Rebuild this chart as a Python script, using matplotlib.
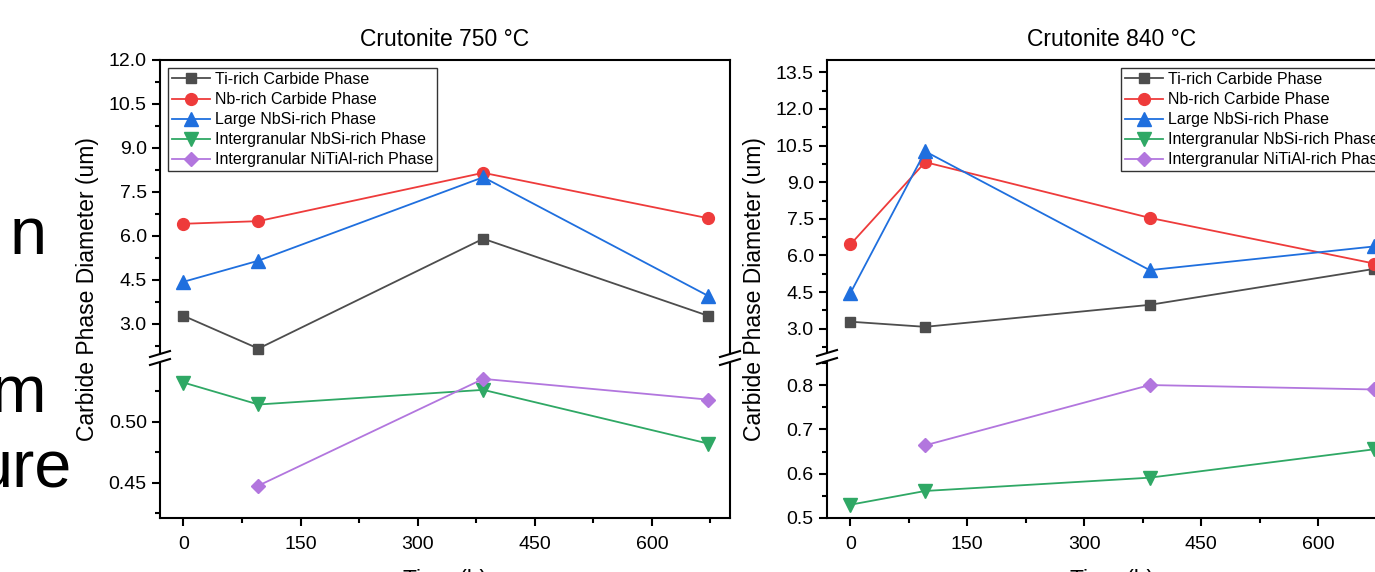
"""Crutonite carbide phase diameter vs time at 750 and 840 C (broken y axes)."""
import numpy as np
import matplotlib
matplotlib.use("Agg")
import matplotlib.pyplot as plt
from matplotlib.lines import Line2D
from matplotlib.ticker import MultipleLocator, FormatStrFormatter

plt.rcParams["font.family"] = ["Liberation Sans", "DejaVu Sans"]

# ---- data ----
time_h = [0, 96, 384, 672]
series_names = [
    "Ti-rich Carbide Phase",
    "Nb-rich Carbide Phase",
    "Large NbSi-rich Phase",
    "Intergranular NbSi-rich Phase",
    "Intergranular NiTiAl-rich Phase",
]
ti_750 = [3.27, 2.15, 5.90, 3.27]
nb_750 = [6.41, 6.50, 8.15, 6.60]
nbsi_large_750 = [4.43, 5.15, 8.00, 3.95]
nbsi_inter_750 = [0.532, 0.514, 0.526, 0.482]
nitial_750 = [np.nan, 0.4475, 0.535, 0.518]

ti_840 = [3.29, 3.08, 3.98, 5.45]
nb_840 = [6.45, 9.82, 7.54, 5.67]
nbsi_large_840 = [4.46, 10.26, 5.40, 6.37]
nbsi_inter_840 = [0.530, 0.561, 0.591, 0.655]
nitial_840 = [np.nan, 0.664, 0.800, 0.790]

colors = ["#4d4d4d", "#ee3b3b", "#1f6fde", "#2fa865", "#b276de"]
markers = ["s", "o", "^", "v", "D"]
msizes = [7.5, 8.5, 9.5, 9.5, 7.5]

W, H = 1375, 572


def box(x0, y0, x1, y1):
    """Pixel box (top-left origin) -> figure fraction rect."""
    return [x0 / W, 1 - y1 / H, (x1 - x0) / W, (y1 - y0) / H]


def style_axis(ax, upper):
    for s in ax.spines.values():
        s.set_linewidth(1.5)
        s.set_color("black")
    ax.set_xlim(-30, 700)
    ax.xaxis.set_major_locator(MultipleLocator(150))
    ax.xaxis.set_minor_locator(MultipleLocator(75))
    ax.tick_params(which="both", direction="out", width=1.5, labelsize=14,
                   right=False, top=False)
    ax.tick_params(which="major", length=6)
    ax.tick_params(which="minor", length=3.5)
    ax.tick_params(axis="x", which="major", pad=7)
    if upper:
        ax.spines["bottom"].set_visible(False)
        ax.tick_params(axis="x", which="both", bottom=False, labelbottom=False)
    else:
        ax.spines["top"].set_visible(False)


def break_marks(fig, xs, y_top, y_bot):
    for x in xs:
        for y in (y_top + 1, y_bot - 1):
            fig.add_artist(Line2D([(x - 10) / W, (x + 10) / W],
                                  [1 - (y + 3) / H, 1 - (y - 3) / H],
                                  transform=fig.transFigure, color="black",
                                  lw=1.5))


def panel(fig, x0, x1, gap, title, upper_data, lower_data, upper_lim,
          lower_lim, lower_major, lower_fmt, legend_x):
    ax_u = fig.add_axes(box(x0, 60, x1, gap[0]))
    ax_l = fig.add_axes(box(x0, gap[1], x1, 518))
    handles = []
    for i, vals in enumerate(upper_data + lower_data):
        ax = ax_u if i < 3 else ax_l
        (h,) = ax.plot(time_h, vals, color=colors[i], marker=markers[i],
                       markersize=msizes[i], lw=1.3, label=series_names[i],
                       clip_on=False)
        handles.append(h)
    style_axis(ax_u, True)
    style_axis(ax_l, False)
    ax_u.set_ylim(*upper_lim)
    ax_u.yaxis.set_major_locator(MultipleLocator(1.5))
    ax_u.yaxis.set_minor_locator(MultipleLocator(0.75))
    ax_u.yaxis.set_major_formatter(FormatStrFormatter("%.1f"))
    ax_l.set_ylim(*lower_lim)
    ax_l.yaxis.set_major_locator(MultipleLocator(lower_major))
    ax_l.yaxis.set_minor_locator(MultipleLocator(lower_major / 2))
    ax_l.yaxis.set_major_formatter(FormatStrFormatter(lower_fmt))

    leg = ax_u.legend(handles=handles, loc="upper left",
                      bbox_to_anchor=(legend_x, 1 - 8 / (gap[0] - 60)),
                      borderaxespad=0, fontsize=11.5, labelspacing=0.32,
                      handlelength=2.4, handletextpad=0.3, borderpad=0.25,
                      fancybox=False, framealpha=1)
    leg.get_frame().set_edgecolor("#333333")
    leg.get_frame().set_linewidth(1.0)

    cx = (x0 + x1) / 2
    fig.text(cx / W, 1 - 40 / H, title, ha="center", va="center",
             fontsize=16.5)
    fig.text(cx / W, 1 - 569 / H, "Time (h)", ha="center", va="top",
             fontsize=16.5)
    break_marks(fig, [x0, x1], gap[0], gap[1])


def main():
    fig = plt.figure(figsize=(W / 100, H / 100), dpi=100)

    panel(fig, 160, 730, (353, 363), "Crutonite 750 °C",
          [ti_750, nb_750, nbsi_large_750], [nbsi_inter_750, nitial_750],
          (2.0, 12.0), (0.421, 0.548), 0.05, "%.2f", 8 / 570)
    panel(fig, 827, 1396, (352, 362), "Crutonite 840 °C",
          [ti_840, nb_840, nbsi_large_840], [nbsi_inter_840, nitial_840],
          (2.05, 14.0), (0.5, 0.852), 0.1, "%.1f", 294 / 569)

    for x in (88, 755):
        fig.text(x / W, 1 - 289 / H, "Carbide Phase Diameter (um)",
                 rotation=90, ha="center", va="center", fontsize=16.5)

    # fragments of the slide text cut off at the left edge
    fig.text(47 / W, 1 - 254 / H, "n", ha="right", va="baseline", fontsize=48)
    fig.text(46 / W, 1 - 412 / H, "m", ha="right", va="baseline", fontsize=48)
    fig.text(72 / W, 1 - 487 / H, "ure", ha="right", va="baseline",
             fontsize=48)

    fig.savefig("out.png", dpi=100)


if __name__ == "__main__":
    main()
